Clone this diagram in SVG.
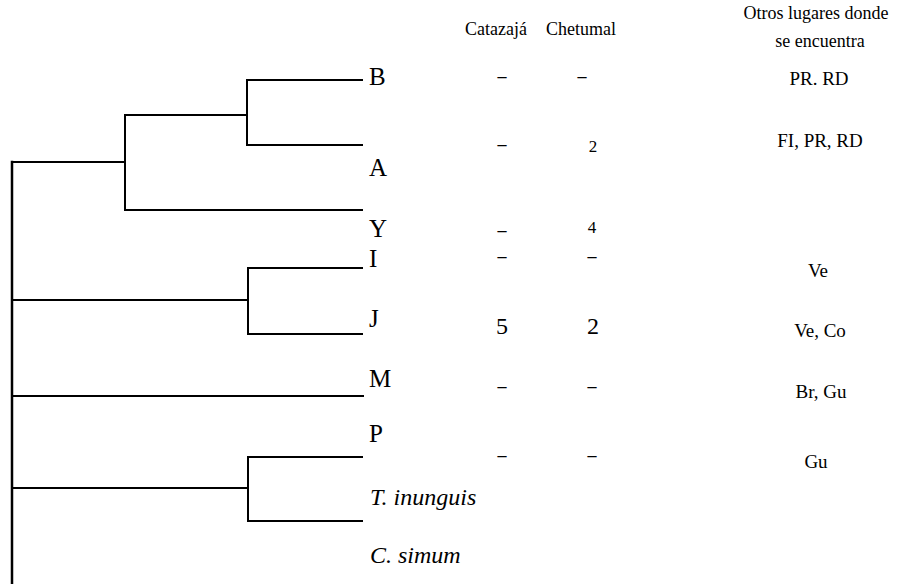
<svg xmlns="http://www.w3.org/2000/svg" width="900" height="584" viewBox="0 0 900 584">
<style>
.br{stroke:#000;stroke-width:2;fill:none;stroke-linecap:square}
.leaf{font-family:"Liberation Serif",serif;font-size:25px;fill:#000}
.it{font-style:italic;font-size:24px}
.hd{font-family:"Liberation Serif",serif;font-size:18px;fill:#000;text-anchor:middle}
.v{font-family:"Liberation Serif",serif;font-size:19px;fill:#000;text-anchor:middle}
.big{font-size:24px}
.sm{font-size:17px}
.d{font-family:"Liberation Serif",serif;font-size:18px;font-weight:bold;fill:#000;text-anchor:middle}
</style>
<rect width="900" height="584" fill="#fff"/>
<g id="connectors">
<path class="br" d="M12,162 V584" style="stroke-width:2.5"/>
<path class="br" d="M12,162 H125 M125,115 V210 M125,115 H247 M247,80 V145 M247,80 H362 M247,145 H362 M125,210 H362"/>
<path class="br" d="M12,300 H248 M248,268 V334 M248,268 H362 M248,334 H362"/>
<path class="br" d="M12,396 H363"/>
<path class="br" d="M12,488 H248 M248,457 V521 M248,457 H362 M248,521 H362"/>
</g>
<g id="header">
<text class="hd" x="496" y="35">Catazajá</text>
<text class="hd" x="581" y="35">Chetumal</text>
<text class="hd" x="816" y="19">Otros lugares donde</text>
<text class="hd" x="820" y="47">se encuentra</text>
</g>
<g id="node-B">
<text class="leaf" x="369" y="85">B</text>
<text class="d" x="502" y="82">–</text>
<text class="d" x="582" y="82">–</text>
<text class="v" x="819" y="85">PR. RD</text>
</g>
<g id="node-A">
<text class="leaf" x="369" y="176">A</text>
<text class="d" x="502" y="150">–</text>
<text class="v sm" x="593" y="152">2</text>
<text class="v" x="820" y="147">FI, PR, RD</text>
</g>
<g id="node-Y">
<text class="leaf" x="369" y="237">Y</text>
<text class="d" x="502" y="236">–</text>
<text class="v sm" x="592" y="233">4</text>
</g>
<g id="node-I">
<text class="leaf" x="369" y="267">I</text>
<text class="d" x="502" y="262">–</text>
<text class="d" x="592" y="262">–</text>
<text class="v" x="818" y="277">Ve</text>
</g>
<g id="node-J">
<text class="leaf" x="369" y="327">J</text>
<text class="v big" x="502" y="334">5</text>
<text class="v big" x="593" y="334">2</text>
<text class="v" x="820" y="337">Ve, Co</text>
</g>
<g id="node-M">
<text class="leaf" x="369" y="387">M</text>
<text class="d" x="502" y="392">–</text>
<text class="d" x="592" y="392">–</text>
<text class="v" x="821" y="398">Br, Gu</text>
</g>
<g id="node-P">
<text class="leaf" x="369" y="442">P</text>
<text class="d" x="502" y="461">–</text>
<text class="d" x="592" y="461">–</text>
<text class="v" x="816" y="468">Gu</text>
</g>
<g id="node-T-inunguis">
<text class="leaf it" x="370" y="505">T. inunguis</text>
</g>
<g id="node-C-simum">
<text class="leaf it" x="370" y="563">C. simum</text>
</g>
</svg>
